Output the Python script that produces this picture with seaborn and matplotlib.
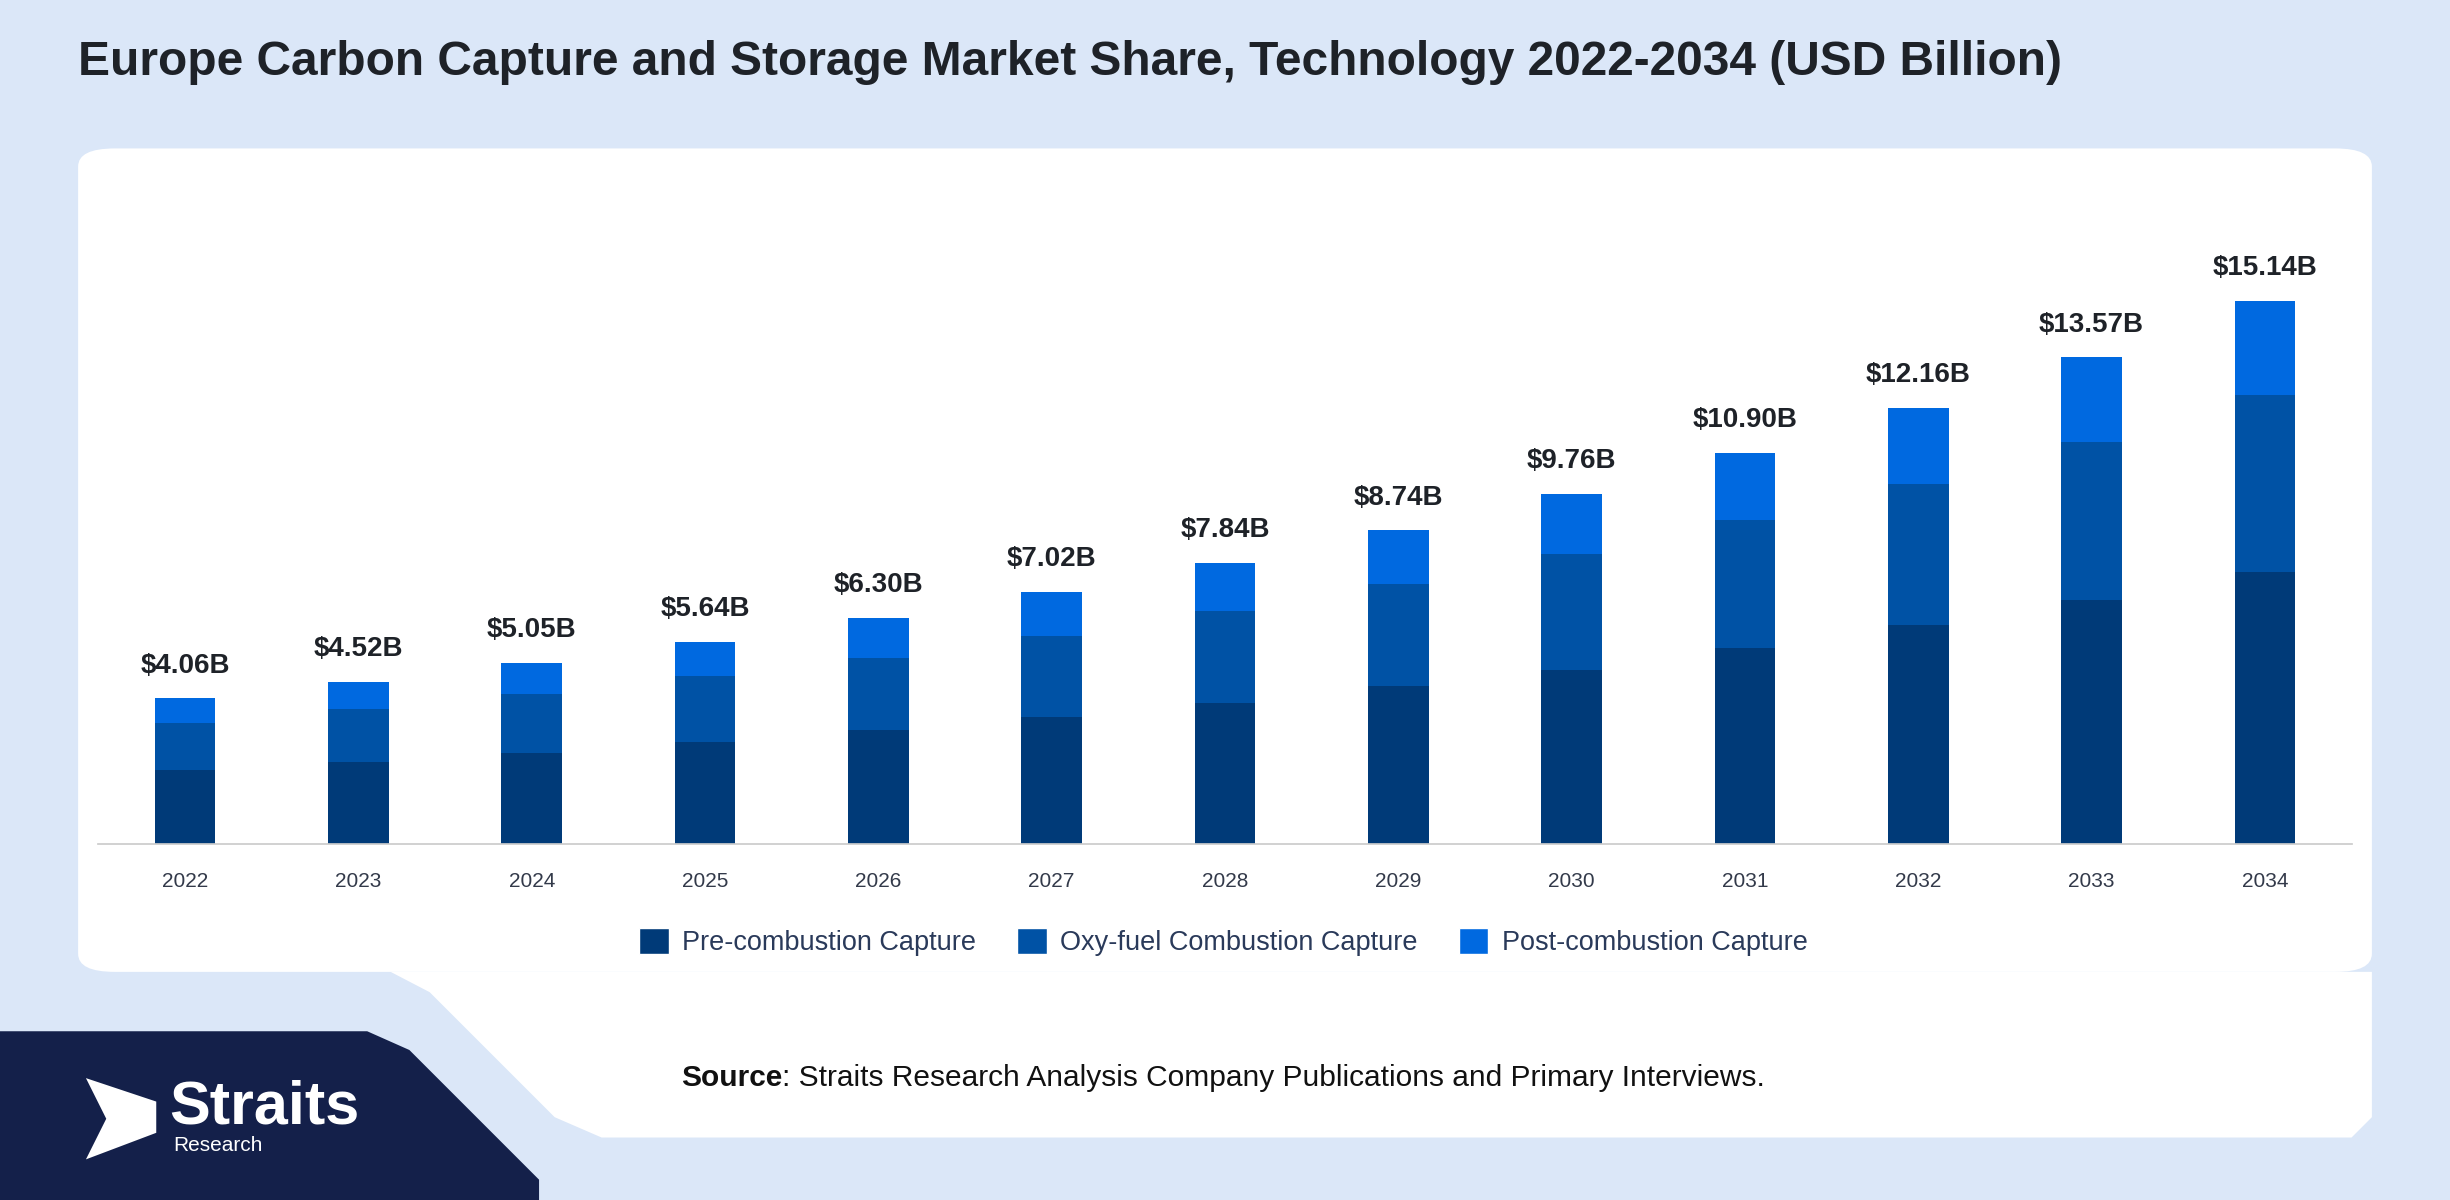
import matplotlib
matplotlib.use("Agg")
import matplotlib.pyplot as plt
import seaborn as sns
import pandas as pd
import numpy as np
from matplotlib.patches import FancyBboxPatch, Polygon, Patch

years = ["2022","2023","2024","2025","2026","2027","2028","2029","2030","2031","2032","2033","2034"]
pre = [2.05,2.27,2.53,2.84,3.18,3.53,3.93,4.41,4.84,5.45,6.11,6.81,7.59]
oxy = [1.31,1.48,1.66,1.83,2.01,2.27,2.57,2.84,3.23,3.58,3.93,4.41,4.93]
totals = [4.06,4.52,5.05,5.64,6.30,7.02,7.84,8.74,9.76,10.90,12.16,13.57,15.14]
series = ["Pre-combustion Capture","Oxy-fuel Combustion Capture","Post-combustion Capture"]
colors = ["#003a78","#0052a5","#0069e0"]

sns.set_theme(style="white")
plt.rcParams['font.family'] = ['Liberation Sans','DejaVu Sans']

fig = plt.figure(figsize=(24.5,12), dpi=100)
fig.patch.set_facecolor("#dbe7f8")
W,H = 1568,768
def fx(x): return x/W
def fy(y): return 1-y/H

def addp(p):
    p.set_zorder(-5)
    fig.patches.append(p)

addp(FancyBboxPatch((fx(50),fy(622)), fx(1518-50), fy(95)-fy(622),
    boxstyle="round,pad=0,rounding_size=0.015", transform=fig.transFigure, fc="white", ec="none"))
addp(Polygon([(fx(250),fy(622)),(fx(1518),fy(622)),(fx(1518),fy(715)),(fx(1505),fy(728)),
    (fx(385),fy(728)),(fx(355),fy(715)),(fx(275),fy(635))], closed=True, transform=fig.transFigure, fc="white", ec="none"))
addp(Polygon([(0,fy(660)),(fx(235),fy(660)),(fx(262),fy(672)),(fx(345),fy(755)),(fx(345),0),(0,0)],
    closed=True, transform=fig.transFigure, fc="#14204a", ec="none"))
addp(Polygon([(fx(55),fy(690)),(fx(100),fy(705)),(fx(100),fy(725)),(fx(55),fy(742)),(fx(68),fy(716))],
    closed=True, transform=fig.transFigure, fc="white", ec="none"))
fig.text(fx(108), fy(709), "Straits", color="white", fontsize=44, fontweight="bold", va="center", ha="left")
fig.text(fx(111), fy(733), "Research", color="white", fontsize=15, va="center", ha="left")

fig.text(fx(50), fy(40), "Europe Carbon Capture and Storage Market Share, Technology 2022-2034 (USD Billion)",
         fontsize=34.5, fontweight="bold", color="#1e2228", va="center", ha="left")
t1 = fig.text(fx(436), fy(690), "Source", fontsize=21.5, fontweight="bold", color="#111111", va="center", ha="left")
fig.canvas.draw()
bb = t1.get_window_extent()
fig.text(bb.x1/fig.bbox.width, fy(690), ": Straits Research Analysis Company Publications and Primary Interviews.",
         fontsize=21.5, color="#111111", va="center", ha="left")

ax = fig.add_axes([fx(63), fy(540), fx(1505)-fx(63), fy(150)-fy(540)])
ax.set_facecolor("none")
df = pd.DataFrame({"year":years,"pre":pre,"oxy":oxy,"total":totals})
df["c2"] = df["pre"]+df["oxy"]
for col,c in zip(["total","c2","pre"], colors[::-1]):
    sns.barplot(data=df, x="year", y=col, color=c, width=0.35, ax=ax, saturation=1, linewidth=0)
for i,t in enumerate(totals):
    ax.text(i, t+0.55, f"${t:.2f}B", ha="center", va="bottom", fontsize=20, fontweight="bold", color="#1e2228")
ax.set_ylim(0,17)
ax.set_xlim(-0.5,12.5)
ax.set_xlabel(""); ax.set_ylabel("")
ax.set_yticks([])
for s in ["top","right","left"]:
    ax.spines[s].set_visible(False)
ax.spines["bottom"].set_color("#cccccc")
ax.tick_params(axis="x", labelsize=15, colors="#333a4a", length=0, pad=20)
handles = [Patch(facecolor=c, label=s) for c,s in zip(colors,series)]
fig.legend(handles=handles, loc="center", bbox_to_anchor=(fx(783), fy(603)), ncol=3, frameon=False,
           fontsize=19.5, handlelength=1.1, handleheight=1.1, columnspacing=1.5, handletextpad=0.5, labelcolor="#2a3a5a")
fig.savefig("out.png", dpi=100, facecolor=fig.get_facecolor())
